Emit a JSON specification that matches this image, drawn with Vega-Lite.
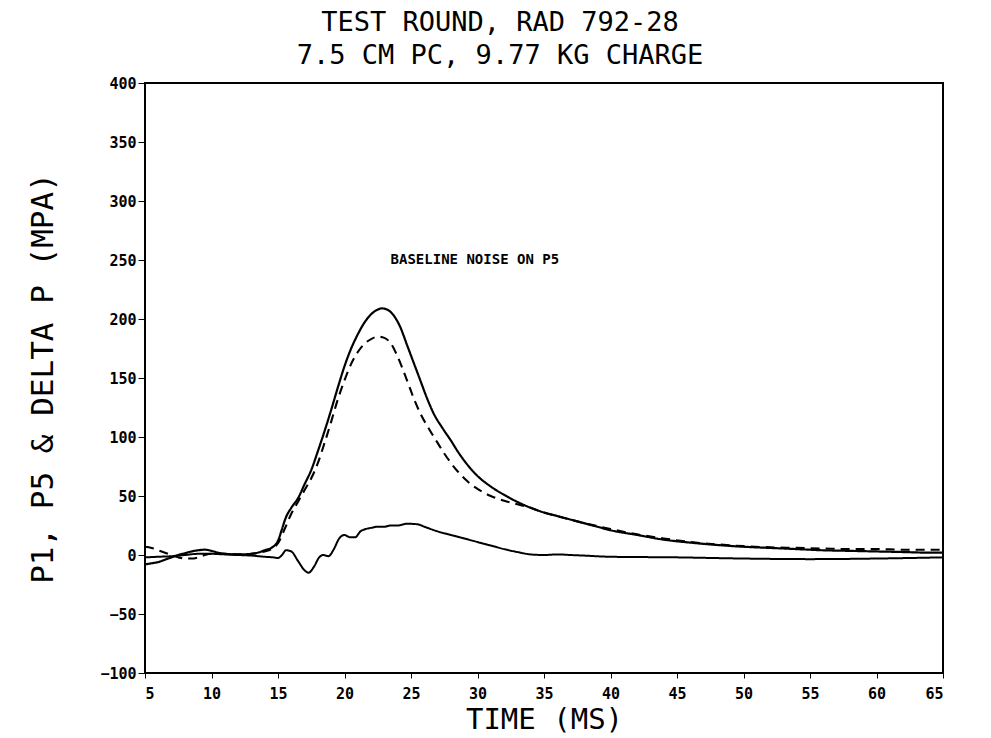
{
  "$schema": "https://vega.github.io/schema/vega-lite/v6.json",
  "width": 798,
  "height": 590,
  "autosize": {"type": "none"},
  "padding": {"left": 145, "top": 83, "right": 48, "bottom": 65},
  "background": "white",
  "title": {
    "text": ["TEST ROUND, RAD 792-28", "7.5 CM PC, 9.77 KG CHARGE"],
    "fontSize": 27,
    "font": "DejaVu Sans Mono",
    "fontWeight": "normal",
    "lineHeight": 33,
    "dx": -44,
    "offset": 6,
    "color": "black"
  },
  "config": {
    "view": {"stroke": "black", "strokeWidth": 2},
    "axis": {
      "domain": false,
      "grid": false,
      "tickColor": "black",
      "tickSize": 7,
      "labelFont": "DejaVu Sans Mono",
      "labelFontWeight": "bold",
      "labelFontSize": 15,
      "labelColor": "black",
      "titleFont": "DejaVu Sans Mono",
      "titleFontWeight": "normal",
      "titleFontSize": 29,
      "titleColor": "black"
    }
  },
  "datasets": {
    "curves": [
      {"series": "P1", "t": 5, "v": -8}, {"series": "P1", "t": 5.5, "v": -7}, {"series": "P1", "t": 6, "v": -6}, {"series": "P1", "t": 6.5, "v": -4}, {"series": "P1", "t": 7, "v": -2}, {"series": "P1", "t": 7.5, "v": 0}, {"series": "P1", "t": 8, "v": 1.5}, {"series": "P1", "t": 8.5, "v": 3}, {"series": "P1", "t": 9, "v": 4}, {"series": "P1", "t": 9.5, "v": 4.5}, {"series": "P1", "t": 10, "v": 3.5}, {"series": "P1", "t": 10.5, "v": 2}, {"series": "P1", "t": 11, "v": 1}, {"series": "P1", "t": 12, "v": 0.5}, {"series": "P1", "t": 13, "v": 1}, {"series": "P1", "t": 13.5, "v": 2}, {"series": "P1", "t": 14, "v": 4}, {"series": "P1", "t": 14.5, "v": 6}, {"series": "P1", "t": 15, "v": 12}, {"series": "P1", "t": 15.3, "v": 22}, {"series": "P1", "t": 15.6, "v": 32}, {"series": "P1", "t": 16, "v": 40}, {"series": "P1", "t": 16.5, "v": 48}, {"series": "P1", "t": 17, "v": 60}, {"series": "P1", "t": 17.5, "v": 72}, {"series": "P1", "t": 18, "v": 88}, {"series": "P1", "t": 18.5, "v": 105}, {"series": "P1", "t": 19, "v": 123}, {"series": "P1", "t": 19.5, "v": 142}, {"series": "P1", "t": 20, "v": 160}, {"series": "P1", "t": 20.5, "v": 175}, {"series": "P1", "t": 21, "v": 187}, {"series": "P1", "t": 21.5, "v": 197}, {"series": "P1", "t": 22, "v": 204}, {"series": "P1", "t": 22.5, "v": 208}, {"series": "P1", "t": 22.8, "v": 209}, {"series": "P1", "t": 23.2, "v": 208}, {"series": "P1", "t": 23.7, "v": 203}, {"series": "P1", "t": 24.2, "v": 193}, {"series": "P1", "t": 24.7, "v": 178}, {"series": "P1", "t": 25.2, "v": 163}, {"series": "P1", "t": 25.7, "v": 148}, {"series": "P1", "t": 26.2, "v": 133}, {"series": "P1", "t": 26.7, "v": 120}, {"series": "P1", "t": 27.4, "v": 107}, {"series": "P1", "t": 28, "v": 97}, {"series": "P1", "t": 28.5, "v": 88}, {"series": "P1", "t": 29, "v": 80}, {"series": "P1", "t": 29.5, "v": 73}, {"series": "P1", "t": 30, "v": 67}, {"series": "P1", "t": 31, "v": 58}, {"series": "P1", "t": 32, "v": 51}, {"series": "P1", "t": 33, "v": 45}, {"series": "P1", "t": 34, "v": 40}, {"series": "P1", "t": 35, "v": 36}, {"series": "P1", "t": 36, "v": 33}, {"series": "P1", "t": 37, "v": 30}, {"series": "P1", "t": 38, "v": 27}, {"series": "P1", "t": 39, "v": 24}, {"series": "P1", "t": 40, "v": 21}, {"series": "P1", "t": 42, "v": 17}, {"series": "P1", "t": 44, "v": 13}, {"series": "P1", "t": 46, "v": 10.5}, {"series": "P1", "t": 48, "v": 8.5}, {"series": "P1", "t": 50, "v": 7}, {"series": "P1", "t": 52, "v": 6}, {"series": "P1", "t": 54, "v": 5}, {"series": "P1", "t": 56, "v": 4}, {"series": "P1", "t": 58, "v": 3.5}, {"series": "P1", "t": 60, "v": 3}, {"series": "P1", "t": 62, "v": 2.5}, {"series": "P1", "t": 64, "v": 2}, {"series": "P1", "t": 65, "v": 2},

      {"series": "P5", "t": 5, "v": 7}, {"series": "P5", "t": 5.5, "v": 6}, {"series": "P5", "t": 6, "v": 4}, {"series": "P5", "t": 6.5, "v": 2}, {"series": "P5", "t": 7, "v": 0}, {"series": "P5", "t": 7.5, "v": -2}, {"series": "P5", "t": 8, "v": -3}, {"series": "P5", "t": 8.5, "v": -3}, {"series": "P5", "t": 9, "v": -2}, {"series": "P5", "t": 9.5, "v": 0}, {"series": "P5", "t": 10, "v": 1}, {"series": "P5", "t": 11, "v": 1}, {"series": "P5", "t": 12, "v": 0.5}, {"series": "P5", "t": 13, "v": 1}, {"series": "P5", "t": 14, "v": 3}, {"series": "P5", "t": 14.5, "v": 5}, {"series": "P5", "t": 15, "v": 10}, {"series": "P5", "t": 15.5, "v": 22}, {"series": "P5", "t": 16, "v": 35}, {"series": "P5", "t": 16.5, "v": 45}, {"series": "P5", "t": 17, "v": 55}, {"series": "P5", "t": 17.5, "v": 65}, {"series": "P5", "t": 18, "v": 78}, {"series": "P5", "t": 18.5, "v": 95}, {"series": "P5", "t": 19, "v": 113}, {"series": "P5", "t": 19.5, "v": 132}, {"series": "P5", "t": 20, "v": 148}, {"series": "P5", "t": 20.5, "v": 162}, {"series": "P5", "t": 21, "v": 172}, {"series": "P5", "t": 21.5, "v": 179}, {"series": "P5", "t": 22, "v": 183}, {"series": "P5", "t": 22.5, "v": 185}, {"series": "P5", "t": 23, "v": 184}, {"series": "P5", "t": 23.5, "v": 179}, {"series": "P5", "t": 24, "v": 168}, {"series": "P5", "t": 24.7, "v": 148}, {"series": "P5", "t": 25.2, "v": 133}, {"series": "P5", "t": 25.7, "v": 120}, {"series": "P5", "t": 26.4, "v": 106}, {"series": "P5", "t": 27, "v": 95}, {"series": "P5", "t": 27.5, "v": 86}, {"series": "P5", "t": 28, "v": 78}, {"series": "P5", "t": 28.5, "v": 71}, {"series": "P5", "t": 29, "v": 65}, {"series": "P5", "t": 29.5, "v": 60}, {"series": "P5", "t": 30, "v": 56}, {"series": "P5", "t": 31, "v": 50}, {"series": "P5", "t": 32, "v": 46}, {"series": "P5", "t": 33, "v": 43}, {"series": "P5", "t": 34, "v": 40}, {"series": "P5", "t": 35, "v": 36}, {"series": "P5", "t": 36, "v": 33}, {"series": "P5", "t": 37, "v": 30}, {"series": "P5", "t": 38, "v": 27}, {"series": "P5", "t": 39, "v": 24.5}, {"series": "P5", "t": 40, "v": 22}, {"series": "P5", "t": 42, "v": 17.5}, {"series": "P5", "t": 44, "v": 14}, {"series": "P5", "t": 46, "v": 11}, {"series": "P5", "t": 48, "v": 9}, {"series": "P5", "t": 50, "v": 7.5}, {"series": "P5", "t": 52, "v": 6.5}, {"series": "P5", "t": 54, "v": 6}, {"series": "P5", "t": 56, "v": 5.5}, {"series": "P5", "t": 58, "v": 5}, {"series": "P5", "t": 60, "v": 5}, {"series": "P5", "t": 62, "v": 4.5}, {"series": "P5", "t": 64, "v": 4.5}, {"series": "P5", "t": 65, "v": 4.5},

      {"series": "DELTA P", "t": 5, "v": -2}, {"series": "DELTA P", "t": 6, "v": -1.5}, {"series": "DELTA P", "t": 7, "v": -1}, {"series": "DELTA P", "t": 8, "v": 0}, {"series": "DELTA P", "t": 9, "v": 1}, {"series": "DELTA P", "t": 10, "v": 1}, {"series": "DELTA P", "t": 11, "v": 0.5}, {"series": "DELTA P", "t": 12, "v": 0}, {"series": "DELTA P", "t": 13, "v": -0.5}, {"series": "DELTA P", "t": 14, "v": -1.5}, {"series": "DELTA P", "t": 14.6, "v": -2}, {"series": "DELTA P", "t": 15, "v": -2.5}, {"series": "DELTA P", "t": 15.3, "v": 0}, {"series": "DELTA P", "t": 15.6, "v": 4}, {"series": "DELTA P", "t": 16, "v": 3}, {"series": "DELTA P", "t": 16.5, "v": -5}, {"series": "DELTA P", "t": 17, "v": -13}, {"series": "DELTA P", "t": 17.3, "v": -15}, {"series": "DELTA P", "t": 17.7, "v": -10}, {"series": "DELTA P", "t": 18.1, "v": -2}, {"series": "DELTA P", "t": 18.4, "v": 0}, {"series": "DELTA P", "t": 18.8, "v": -1}, {"series": "DELTA P", "t": 19.2, "v": 5}, {"series": "DELTA P", "t": 19.6, "v": 14}, {"series": "DELTA P", "t": 20, "v": 17}, {"series": "DELTA P", "t": 20.4, "v": 15}, {"series": "DELTA P", "t": 20.8, "v": 15}, {"series": "DELTA P", "t": 21.2, "v": 20}, {"series": "DELTA P", "t": 21.6, "v": 22}, {"series": "DELTA P", "t": 22, "v": 23}, {"series": "DELTA P", "t": 22.5, "v": 24}, {"series": "DELTA P", "t": 23, "v": 24}, {"series": "DELTA P", "t": 23.5, "v": 25}, {"series": "DELTA P", "t": 24, "v": 25}, {"series": "DELTA P", "t": 24.7, "v": 26.5}, {"series": "DELTA P", "t": 25.5, "v": 26}, {"series": "DELTA P", "t": 26, "v": 24}, {"series": "DELTA P", "t": 27, "v": 20}, {"series": "DELTA P", "t": 28, "v": 17}, {"series": "DELTA P", "t": 29, "v": 14}, {"series": "DELTA P", "t": 30, "v": 11}, {"series": "DELTA P", "t": 31, "v": 8}, {"series": "DELTA P", "t": 32, "v": 5}, {"series": "DELTA P", "t": 33, "v": 2.5}, {"series": "DELTA P", "t": 34, "v": 0.5}, {"series": "DELTA P", "t": 35, "v": 0}, {"series": "DELTA P", "t": 36, "v": 0.5}, {"series": "DELTA P", "t": 37, "v": 0}, {"series": "DELTA P", "t": 38, "v": -0.5}, {"series": "DELTA P", "t": 40, "v": -1.5}, {"series": "DELTA P", "t": 45, "v": -2}, {"series": "DELTA P", "t": 50, "v": -3}, {"series": "DELTA P", "t": 55, "v": -3.5}, {"series": "DELTA P", "t": 60, "v": -3}, {"series": "DELTA P", "t": 65, "v": -2}
    ],
    "notes": [{"t": 29.8, "v": 250, "label": "BASELINE NOISE ON P5"}]
  },
  "layer": [
    {
      "data": {"name": "curves"},
      "mark": {"type": "line", "color": "black", "interpolate": "monotone"},
      "encoding": {
        "x": {
          "field": "t", "type": "quantitative",
          "scale": {"domain": [5, 65], "nice": false, "zero": false},
          "axis": {"values": [5, 10, 15, 20, 25, 30, 35, 40, 45, 50, 55, 60, 65], "title": "TIME (MS)", "tickSize": 5, "labelPadding": 8, "titlePadding": 4}
        },
        "y": {
          "field": "v", "type": "quantitative",
          "scale": {"domain": [-100, 400], "nice": false, "zero": false},
          "axis": {"values": [-100, -50, 0, 50, 100, 150, 200, 250, 300, 350, 400], "title": "P1, P5 & DELTA P  (MPA)", "labelPadding": 2, "titleX": -102, "titleY": 295, "titleAngle": -90, "titleBaseline": "middle", "titleAlign": "center", "titleFontSize": 31}
        },
        "detail": {"field": "series"},
        "strokeDash": {
          "field": "series", "type": "nominal",
          "scale": {"domain": ["P1", "P5", "DELTA P"], "range": [[1, 0], [9, 6], [1, 0]]},
          "legend": null
        },
        "strokeWidth": {
          "field": "series", "type": "nominal",
          "scale": {"domain": ["P1", "P5", "DELTA P"], "range": [2.2, 2, 3]},
          "legend": null
        }
      }
    },
    {
      "data": {"name": "notes"},
      "mark": {"type": "text", "font": "DejaVu Sans Mono", "fontWeight": "bold", "fontSize": 14, "color": "black", "align": "center", "baseline": "middle"},
      "encoding": {
        "x": {"field": "t", "type": "quantitative"},
        "y": {"field": "v", "type": "quantitative"},
        "text": {"field": "label"}
      }
    }
  ]
}
